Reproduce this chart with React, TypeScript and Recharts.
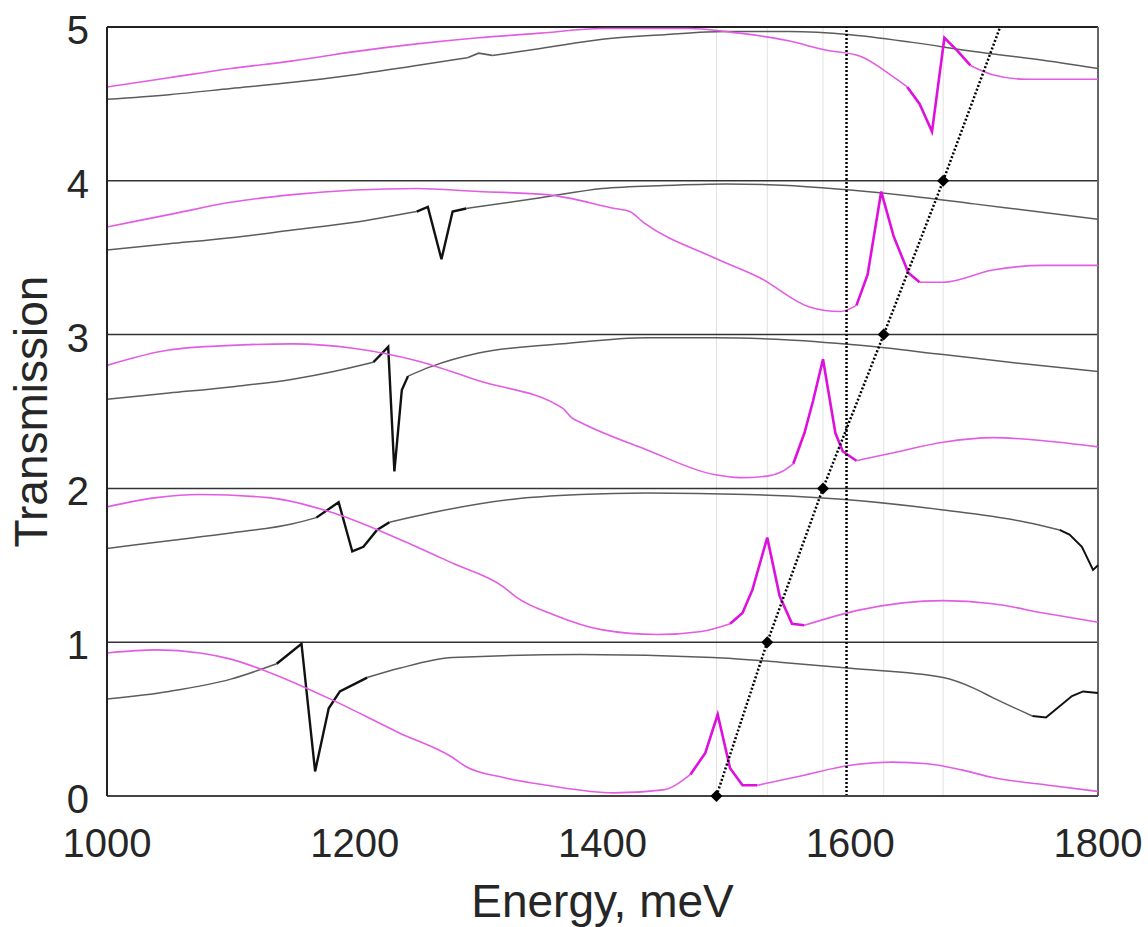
import { ComposedChart, Line, XAxis, YAxis, ReferenceLine } from 'recharts';

type Pt = [number, number];

// axis ticks
const xTicks = [1000, 1100, 1200, 1300, 1400, 1500, 1600, 1700, 1800];
const yTicks = [0, 1, 2, 3, 4, 5];
const separators = [1, 2, 3, 4];

// transmission spectra, each panel shifted by +1
const magenta0: Pt[] = [
  [1000, 0.93], [1040, 0.95], [1075, 0.93], [1100, 0.89], [1129, 0.81], [1183, 0.62],
  [1236, 0.41], [1279, 0.25], [1290, 0.19], [1320, 0.12], [1355, 0.07], [1409, 0.02],
  [1449, 0.04], [1471, 0.14], [1483, 0.28], [1493, 0.53], [1503, 0.18], [1513, 0.07],
  [1525, 0.07], [1560, 0.13], [1600, 0.2], [1634, 0.22], [1662, 0.21], [1690, 0.17],
  [1715, 0.12], [1760, 0.07], [1800, 0.03],
];
const gray0: Pt[] = [
  [1000, 0.63], [1050, 0.68], [1100, 0.76], [1137, 0.86], [1157, 0.99], [1168, 0.16],
  [1179, 0.57], [1188, 0.68], [1210, 0.77], [1236, 0.83], [1279, 0.9], [1382, 0.92],
  [1489, 0.9], [1543, 0.87], [1600, 0.83], [1675, 0.77], [1700, 0.7], [1715, 0.64],
  [1747, 0.52], [1758, 0.51], [1779, 0.65], [1788, 0.68], [1800, 0.67],
];
const magenta1: Pt[] = [
  [1000, 1.88], [1040, 1.94], [1075, 1.96], [1130, 1.94], [1183, 1.84], [1236, 1.67],
  [1280, 1.51], [1320, 1.36], [1331, 1.29], [1360, 1.18], [1400, 1.08], [1444, 1.05],
  [1480, 1.07], [1503, 1.12], [1513, 1.19], [1521, 1.34], [1533, 1.68], [1543, 1.3],
  [1553, 1.12], [1563, 1.11], [1608, 1.21], [1675, 1.27], [1715, 1.25], [1756, 1.19],
  [1800, 1.13],
];
const gray1: Pt[] = [
  [1000, 1.61], [1050, 1.66], [1100, 1.71], [1150, 1.77], [1169, 1.81], [1187, 1.91],
  [1198, 1.59], [1207, 1.62], [1218, 1.73], [1228, 1.78], [1261, 1.84], [1328, 1.93],
  [1382, 1.96], [1436, 1.97], [1517, 1.96], [1608, 1.92], [1675, 1.86], [1742, 1.78],
  [1769, 1.73], [1777, 1.7], [1787, 1.62], [1796, 1.47], [1800, 1.5],
];
const magenta2: Pt[] = [
  [1000, 2.8], [1050, 2.9], [1100, 2.93], [1150, 2.94], [1200, 2.91], [1250, 2.83],
  [1300, 2.7], [1368, 2.52], [1375, 2.46], [1382, 2.43], [1436, 2.25], [1490, 2.09],
  [1511, 2.07], [1533, 2.08], [1545, 2.11], [1554, 2.16], [1563, 2.36], [1570, 2.57],
  [1578, 2.84], [1588, 2.36], [1594, 2.24], [1605, 2.18], [1634, 2.23], [1675, 2.3],
  [1715, 2.33], [1756, 2.31], [1800, 2.27],
];
const gray2: Pt[] = [
  [1000, 2.58], [1050, 2.62], [1100, 2.66], [1150, 2.71], [1183, 2.76], [1215, 2.82],
  [1227, 2.92], [1232, 2.11], [1238, 2.64], [1243, 2.73], [1261, 2.79], [1300, 2.88],
  [1368, 2.94], [1436, 2.98], [1490, 2.98], [1540, 2.97], [1608, 2.93], [1675, 2.87],
  [1740, 2.81], [1800, 2.76],
];
const magenta3: Pt[] = [
  [1000, 3.7], [1050, 3.78], [1100, 3.86], [1150, 3.91], [1200, 3.94], [1250, 3.95],
  [1300, 3.93], [1355, 3.91], [1410, 3.82], [1422, 3.8], [1433, 3.73], [1490, 3.5],
  [1527, 3.37], [1567, 3.18], [1592, 3.15], [1605, 3.19], [1614, 3.39], [1625, 3.93],
  [1635, 3.64], [1647, 3.4], [1656, 3.34], [1675, 3.34], [1715, 3.42], [1756, 3.45],
  [1800, 3.45],
];
const gray3: Pt[] = [
  [1000, 3.55], [1050, 3.59], [1100, 3.63], [1150, 3.68], [1200, 3.73], [1250, 3.8],
  [1259, 3.83], [1270, 3.49], [1279, 3.8], [1290, 3.82], [1350, 3.89], [1400, 3.95],
  [1450, 3.97], [1500, 3.98], [1550, 3.97], [1600, 3.94], [1650, 3.9], [1700, 3.85],
  [1750, 3.8], [1800, 3.75],
];
const magenta4: Pt[] = [
  [1000, 4.61], [1050, 4.67], [1100, 4.73], [1150, 4.78], [1200, 4.84], [1250, 4.89],
  [1300, 4.93], [1350, 4.96], [1400, 4.99], [1470, 4.99], [1500, 4.97], [1550, 4.91],
  [1580, 4.85], [1608, 4.81], [1634, 4.68], [1646, 4.61], [1656, 4.5], [1666, 4.32],
  [1676, 4.93], [1686, 4.85], [1697, 4.75], [1715, 4.69], [1742, 4.66], [1770, 4.66],
  [1800, 4.66],
];
const gray4: Pt[] = [
  [1000, 4.53], [1050, 4.56], [1100, 4.6], [1150, 4.64], [1200, 4.69], [1250, 4.75],
  [1291, 4.8], [1300, 4.83], [1311, 4.815], [1350, 4.86], [1400, 4.92], [1450, 4.95],
  [1500, 4.97], [1550, 4.97], [1600, 4.95], [1650, 4.9], [1700, 4.84], [1750, 4.79],
  [1800, 4.73],
];

// sharp resonance windows (straight segments, heavier stroke)
const magentaSharp = [[[1471, 1525]], [[1503, 1563]], [[1554, 1605]], [[1605, 1656]], [[1646, 1697]]];
const graySharp = [
  [[1137, 1210], [1747, 1800]],
  [[1169, 1228], [1769, 1800]],
  [[1215, 1243]],
  [[1250, 1290]],
  [[1291, 1311]],
];

// mode energies (diamonds) and dispersion line
const modeEnergy = [1492, 1533, 1578, 1627, 1675];
const modeLevel = [0, 1, 2, 3, 4];
const dispersionEnd: Pt = [1721, 5];
const cutoffEnergy = 1597;

const magentaSeries = [magenta0, magenta1, magenta2, magenta3, magenta4];
const graySeries = [gray0, gray1, gray2, gray3, gray4];

// smooth part: points strictly inside a sharp window become gaps
const smoothRows = (p: Pt[], wins: number[][]) =>
  p.map(([x, y]) => ({ x, y: wins.some(([lo, hi]) => x > lo && x < hi) ? null : y }));
const within = (p: Pt[], r: number[]) =>
  p.filter(([x]) => x >= r[0] && x <= r[1]).map(([x, y]) => ({ x, y }));

const modes = modeEnergy.map((x, i) => ({ x, y: modeLevel[i] }));
const dispersion = [...modes, { x: dispersionEnd[0], y: dispersionEnd[1] }];

const FONT = '"Liberation Sans", Arial, sans-serif';
const INK = '#262626';

function XTick(props: any) {
  const { x, y, payload } = props;
  if (payload.value % 200 !== 0) return <g />;
  return (
    <text x={x} y={y + 61} textAnchor="middle" fontSize={40} fill={INK} fontFamily={FONT}>
      {payload.value}
    </text>
  );
}

function YTick(props: any) {
  const { x, y, payload } = props;
  return (
    <text x={x - 18} y={y + 17} textAnchor="end" fontSize={40} fill={INK} fontFamily={FONT}>
      {payload.value}
    </text>
  );
}

function Diamond(props: any) {
  const { cx, cy, index } = props;
  if (cx == null || cy == null) return <g key={index} />;
  return (
    <path
      key={index}
      d={`M${cx},${cy - 6} L${cx + 6},${cy} L${cx},${cy + 6} L${cx - 6},${cy} Z`}
      fill="#000"
    />
  );
}

export default function App() {
  return (
    <div style={{ position: 'absolute', left: 0, top: 0, width: 1148, height: 927, background: '#fff' }}>
      <ComposedChart width={1148} height={927} margin={{ top: 27, right: 50, bottom: 0, left: 0 }}>
        <XAxis
          type="number"
          dataKey="x"
          domain={[1000, 1800]}
          ticks={xTicks}
          tick={<XTick />}
          tickLine={false}
          tickSize={0}
          tickMargin={0}
          height={131}
          axisLine={{ stroke: '#444', strokeWidth: 2 }}
          label={(p: any) => {
            const vb = p.viewBox;
            return (
              <text
                x={vb.x + vb.width / 2}
                y={vb.y + 121}
                textAnchor="middle"
                fontSize={46}
                fill={INK}
                fontFamily={FONT}
              >
                Energy, meV
              </text>
            );
          }}
        />
        <YAxis
          type="number"
          dataKey="y"
          domain={[0, 5]}
          ticks={yTicks}
          tick={<YTick />}
          tickLine={false}
          tickSize={0}
          tickMargin={0}
          width={107}
          axisLine={{ stroke: '#222', strokeWidth: 2 }}
          label={(p: any) => {
            const vb = p.viewBox;
            const cx = vb.x + 47;
            const cy = vb.y + vb.height / 2;
            return (
              <text
                x={cx}
                y={cy}
                transform={`rotate(-90, ${cx}, ${cy})`}
                textAnchor="middle"
                fontSize={46}
                fill={INK}
                fontFamily={FONT}
              >
                Transmission
              </text>
            );
          }}
        />

        {modeEnergy.map((e) => (
          <ReferenceLine key={`g${e}`} x={e} stroke="#e2e2e2" strokeWidth={1} />
        ))}
        {separators.map((s) => (
          <ReferenceLine key={`s${s}`} y={s} stroke="#333" strokeWidth={1.5} />
        ))}
        <ReferenceLine y={5} stroke="#222" strokeWidth={2} />
        <ReferenceLine x={1800} stroke="#666" strokeWidth={2} />

        {graySeries.map((s, i) => (
          <Line
            key={`gray${i}`}
            data={smoothRows(s, graySharp[i])}
            dataKey="y"
            type="monotone"
            stroke="#5c5c5c"
            strokeWidth={1.5}
            dot={false}
            isAnimationActive={false}
          />
        ))}
        {graySeries.flatMap((s, i) =>
          graySharp[i].map((w, j) => (
            <Line
              key={`grayPk${i}-${j}`}
              data={within(s, w)}
              dataKey="y"
              type="linear"
              stroke={i === 4 ? '#5c5c5c' : '#111'}
              strokeWidth={i === 4 ? 1.7 : j === 0 ? 2.4 : 2}
              dot={false}
              isAnimationActive={false}
            />
          )),
        )}
        {magentaSeries.map((s, i) => (
          <Line
            key={`mag${i}`}
            data={smoothRows(s, magentaSharp[i])}
            dataKey="y"
            type="monotone"
            stroke="#e35ce3"
            strokeWidth={1.6}
            dot={false}
            isAnimationActive={false}
          />
        ))}
        {magentaSeries.flatMap((s, i) =>
          magentaSharp[i].map((w, j) => (
            <Line
              key={`magPk${i}-${j}`}
              data={within(s, w)}
              dataKey="y"
              type="linear"
              stroke="#dd10dd"
              strokeWidth={2.6}
              dot={false}
              isAnimationActive={false}
            />
          )),
        )}

        <ReferenceLine x={cutoffEnergy} stroke="#000" strokeWidth={2.5} strokeDasharray="2 2" />
        <Line
          data={dispersion}
          dataKey="y"
          type="linear"
          stroke="#000"
          strokeWidth={2.5}
          strokeDasharray="2 2"
          dot={false}
          isAnimationActive={false}
        />
        <Line
          data={modes}
          dataKey="y"
          stroke="none"
          dot={<Diamond />}
          isAnimationActive={false}
        />
      </ComposedChart>
    </div>
  );
}
